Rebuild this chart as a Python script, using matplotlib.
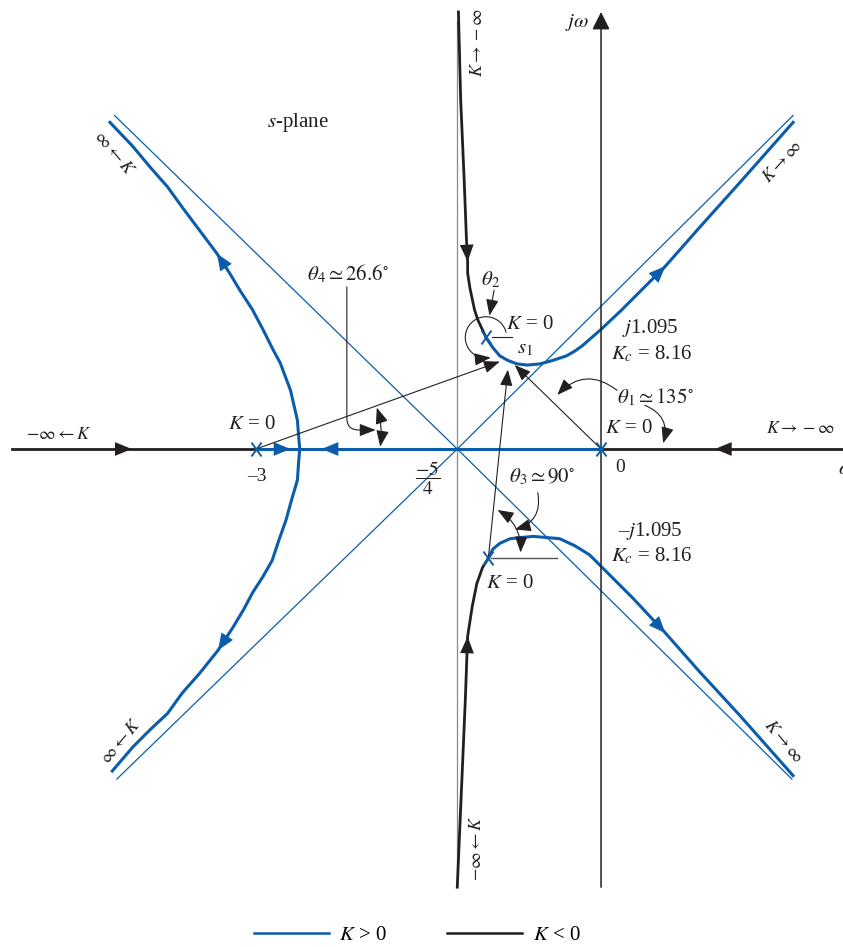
import numpy as np
import matplotlib

matplotlib.use("Agg")
import matplotlib.pyplot as plt
from matplotlib.lines import Line2D
from matplotlib.path import Path

plt.rcParams["font.family"] = ["Liberation Serif", "DejaVu Serif"]
plt.rcParams["mathtext.fontset"] = "stix"

BLUE = "#0b5dab"
INK = "#231f20"
GRAY = "#8a8a8a"

# open-loop poles of K / (s (s + 3) (s^2 + 2s + 2))
pole_re = [-3.0, 0.0, -1.0, -0.98]
pole_im = [0.0, 0.0, 0.97, -0.95]

# asymptote centroid and the far ends of the four K > 0 asymptotes
sigma_a = -1.25
asym_end_re = [1.67, -4.23, -4.21, 1.66]
asym_end_im = [2.90, 2.90, -2.87, -2.87]

# K > 0 branches, listed in the direction of increasing K
pos_upper_re = [-1.00, -0.94, -0.88, -0.81, -0.73, -0.64, -0.53, -0.42, -0.30,
                -0.23, -0.16, -0.08, 0.00, 0.17, 0.34, 0.56, 0.86, 1.21, 1.67]
pos_upper_im = [0.97, 0.88, 0.81, 0.77, 0.74, 0.73, 0.74, 0.77, 0.81,
                0.85, 0.90, 0.97, 1.04, 1.20, 1.37, 1.59, 1.93, 2.32, 2.84]
pos_lower_re = [-0.98, -0.94, -0.88, -0.79, -0.70, -0.59, -0.47, -0.36, -0.23,
                -0.10, 0.00, 0.12, 0.28, 0.56, 0.86, 1.21, 1.67]
pos_lower_im = [-0.95, -0.87, -0.82, -0.78, -0.77, -0.76, -0.77, -0.78, -0.84,
                -0.92, -1.02, -1.14, -1.30, -1.60, -1.94, -2.32, -2.84]
pos_left_up_re = [-2.62, -2.63, -2.64, -2.67, -2.70, -2.79, -2.85, -2.94, -3.03,
                  -3.14, -3.23, -3.34, -3.49, -3.64, -3.77, -3.92, -4.07, -4.27]
pos_left_up_im = [0.00, 0.12, 0.25, 0.38, 0.51, 0.75, 0.86, 1.04, 1.21,
                  1.38, 1.53, 1.70, 1.90, 2.10, 2.28, 2.45, 2.63, 2.84]
pos_left_dn_re = [-2.62, -2.63, -2.64, -2.69, -2.74, -2.80, -2.86, -2.94, -3.03,
                  -3.11, -3.20, -3.33, -3.49, -3.64, -3.77, -3.92, -4.07, -4.25]
pos_left_dn_im = [0.00, -0.12, -0.27, -0.44, -0.62, -0.79, -0.97, -1.11, -1.25,
                  -1.40, -1.55, -1.75, -1.95, -2.12, -2.30, -2.44, -2.59, -2.80]
pos_real_a = [-3.00, -2.70, -2.62]
pos_real_b = [0.00, -2.43, -2.62]

# K < 0 branches, from K = -inf towards the poles
neg_upper_re = [-1.24, -1.22, -1.19, -1.17, -1.16, -1.16, -1.14, -1.10, -1.07, -1.00]
neg_upper_im = [3.80, 3.03, 2.34, 1.82, 1.63, 1.53, 1.40, 1.21, 1.12, 0.97]
neg_lower_re = [-1.25, -1.21, -1.18, -1.16, -1.12, -1.08, -1.03, -0.98]
neg_lower_im = [-3.81, -2.88, -2.18, -1.63, -1.37, -1.17, -1.03, -0.95]
neg_real_left = [-5.12, -4.08, -3.00]
neg_real_right = [2.10, 0.99, 0.00]

# tips of the vectors drawn from the poles to the test point s1
s1_ends_re = [-0.88, -0.81, -0.75]
s1_ends_im = [0.76, 0.69, 0.73]


def head(ax, re, im, i, color, size=11):
    ax.annotate(
        "", xy=(re[i], im[i]), xytext=(re[i - 1], im[i - 1]),
        arrowprops=dict(arrowstyle="-|>,head_length=1.1,head_width=0.45",
                        color=color, lw=0, mutation_scale=size,
                        shrinkA=0, shrinkB=0),
    )


def thin_arrow(ax, start, end, style="-|>", rad=0.0, conn=None):
    ax.annotate(
        "", xy=end, xytext=start,
        arrowprops=dict(arrowstyle=f"{style},head_length=0.9,head_width=0.35",
                        color=INK, lw=0.8, mutation_scale=11,
                        shrinkA=0, shrinkB=0,
                        connectionstyle=conn or f"arc3,rad={rad}"),
    )


fig = plt.figure(figsize=(8.43, 9.47), dpi=100)
ax = fig.add_axes([0, 0, 1, 1])
ax.set_xlim(-5.226, 2.104)
ax.set_ylim(-4.330, 3.904)
ax.axis("off")

# s-plane axes
axis_arrow = dict(arrowstyle="-|>,head_length=0.9,head_width=0.45",
                  color=INK, lw=1.1, mutation_scale=12, shrinkA=0, shrinkB=0)
ax.annotate("", xy=(0, 3.80), xytext=(0, -3.81), arrowprops=axis_arrow)
ax.annotate("", xy=(2.13, 0), xytext=(-5.12, 0), arrowprops=axis_arrow)
ax.plot([sigma_a, sigma_a], [3.72, -3.81], color=GRAY, lw=0.9)

# asymptotes
for er, ei in zip(asym_end_re, asym_end_im):
    ax.plot([sigma_a, er], [0, ei], color=BLUE, lw=0.9)

# K < 0 locus
for re, im in [(neg_upper_re, neg_upper_im), (neg_lower_re, neg_lower_im)]:
    ax.plot(re, im, color=INK, lw=2.0, solid_joinstyle="round")
for seg in (neg_real_left, neg_real_right):
    ax.plot(seg, [0] * len(seg), color=INK, lw=2.0)
head(ax, neg_upper_re, neg_upper_im, 4, INK)
head(ax, neg_lower_re, neg_lower_im, 3, INK)
head(ax, neg_real_left, [0] * 3, 1, INK)
head(ax, neg_real_right, [0] * 3, 1, INK)

# K > 0 locus
ax.plot([pos_real_a[0], pos_real_b[0]], [0, 0], color=BLUE, lw=2.2)
for re, im in [(pos_upper_re, pos_upper_im), (pos_lower_re, pos_lower_im),
               (pos_left_up_re, pos_left_up_im), (pos_left_dn_re, pos_left_dn_im)]:
    ax.plot(re, im, color=BLUE, lw=2.2, solid_joinstyle="round")
head(ax, pos_upper_re, pos_upper_im, 15, BLUE)
head(ax, pos_lower_re, pos_lower_im, 13, BLUE)
head(ax, pos_left_up_re, pos_left_up_im, 11, BLUE)
head(ax, pos_left_dn_re, pos_left_dn_im, 11, BLUE)
head(ax, pos_real_a, [0] * 3, 1, BLUE)
head(ax, pos_real_b, [0] * 3, 1, BLUE)

# poles
cross = Path([(-0.36, -0.5), (0.36, 0.5), (-0.36, 0.5), (0.36, -0.5)],
             [Path.MOVETO, Path.LINETO, Path.MOVETO, Path.LINETO])
ax.plot(pole_re, pole_im, linestyle="none", marker=cross, ms=10,
        mew=1.4, color=BLUE, zorder=5)

# vectors from the poles to s1
for k, er, ei in zip([0, 3, 1], s1_ends_re, s1_ends_im):
    thin_arrow(ax, (pole_re[k], pole_im[k]), (er, ei))
ax.plot([pole_re[2] + 0.05, pole_re[2] + 0.23], [pole_im[2]] * 2, color=INK, lw=0.8)
ax.plot([pole_re[3] + 0.02, pole_re[3] + 0.60], [pole_im[3]] * 2, color="#555555", lw=1.0)

# departure angle theta_2 drawn as a circle round the upper complex pole
t = np.deg2rad(np.linspace(15, 276, 90))
r = 0.18
ax.plot(pole_re[2] + r * np.cos(t), pole_im[2] + r * np.sin(t), color=INK, lw=0.8)
t_end = np.deg2rad([270, 283])
thin_arrow(ax, (pole_re[2] + r * np.cos(t_end[0]), pole_im[2] + r * np.sin(t_end[0])),
           (pole_re[2] + r * np.cos(t_end[1]), pole_im[2] + r * np.sin(t_end[1])))
thin_arrow(ax, (-0.93, 1.38), (-0.97, 1.16))

# angle markers
thin_arrow(ax, (0.14, 0.51), (-0.38, 0.47), rad=0.45)
thin_arrow(ax, (0.38, 0.38), (0.54, 0.05), rad=-0.45)
thin_arrow(ax, (-2.21, 1.41), (-1.96, 0.165),
           conn="angle,angleA=-90,angleB=180,rad=12")
thin_arrow(ax, (-1.92, 0.02), (-1.95, 0.36), style="<|-|>", rad=0.12)
thin_arrow(ax, (-0.55, -0.38), (-0.75, -0.70), rad=-0.45)
thin_arrow(ax, (-0.90, -0.53), (-0.70, -0.90), style="<|-|>", rad=-0.3)

# labels
fs = 15
labels = [
    ((-2.64, 2.84), r"$s$-plane", fs),
    ((-0.21, 3.71), r"$j\omega$", fs),
    ((-2.20, 1.52), r"$\theta_4 \simeq 26.6^{\circ}$", fs),
    ((-0.96, 1.47), r"$\theta_2$", fs),
    ((-0.62, 1.08), r"$K$ = 0", fs),
    ((-0.66, 0.87), r"$s_1$", fs),
    ((0.43, 1.05), r"$j$1.095", fs),
    ((0.44, 0.83), r"$K_c$ = 8.16", fs),
    ((0.47, 0.45), r"$\theta_1 \simeq 135^{\circ}$", fs),
    ((-3.04, 0.21), r"$K$ = 0", fs),
    ((0.24, 0.18), r"$K$ = 0", fs),
    ((-2.99, -0.24), "\u20133", 14),
    ((0.17, -0.16), "0", 14),
    ((-1.51, -0.26), r"$\dfrac{-5}{4}$", 14),
    ((-0.51, -0.24), r"$\theta_3 \simeq 90^{\circ}$", fs),
    ((0.43, -0.71), "\u2013" + r"$j$1.095", fs),
    ((0.44, -0.93), r"$K_c$ = 8.16", fs),
    ((-0.79, -1.17), r"$K$ = 0", fs),
    ((1.73, 0.18), r"$K \rightarrow -\infty$", 13),
]
for (x, y), s, size in labels:
    ax.text(x, y, s, fontsize=size, ha="center", va="center", color=INK)
ax.text(-5.00, 0.13, r"$-\infty \leftarrow K$", fontsize=13, ha="left",
        va="center", color=INK)
ax.text(2.06, -0.18, r"$\sigma$", fontsize=fs, ha="left", va="center", color=INK)

# labels running along the branches towards infinity
ends = [
    ((-4.23, 2.57), r"$\infty \leftarrow K$", -50),
    ((1.58, 2.50), r"$K \rightarrow \infty$", 48),
    ((-4.17, -2.54), r"$\infty \leftarrow K$", 50),
    ((1.59, -2.54), r"$K \rightarrow \infty$", -50),
    ((-1.07, 3.53), r"$K \rightarrow -\infty$", 90),
    ((-1.08, -3.47), r"$-\infty \leftarrow K$", 90),
]
for (x, y), s, rot in ends:
    ax.text(x, y, s, fontsize=13, ha="center", va="center", rotation=rot,
            rotation_mode="anchor", color=INK)

handles = [Line2D([], [], color=BLUE, lw=1.8), Line2D([], [], color=INK, lw=1.8)]
ax.legend(handles, [r"$K$ > 0", r"$K$ < 0"], ncol=2, frameon=False,
          fontsize=fs, handlelength=3.6, handletextpad=0.5, columnspacing=2.9,
          loc="center", bbox_to_anchor=(0.495, 0.012))

fig.savefig("out.png", dpi=100)
